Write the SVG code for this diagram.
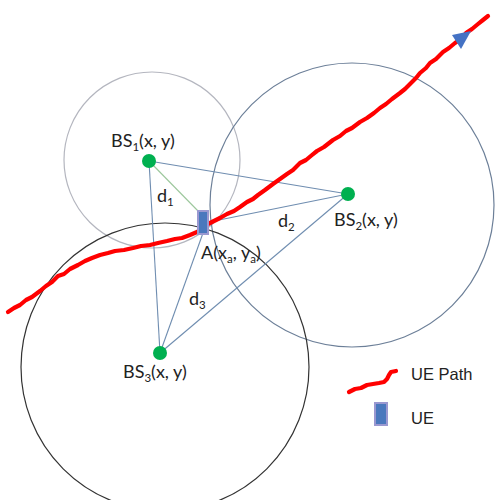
<svg xmlns="http://www.w3.org/2000/svg" width="496" height="500" viewBox="0 0 496 500">
<style>
.lbl{font-family:Lato,"Open Sans","Liberation Sans",sans-serif;font-size:18px;fill:#222}
.leg{font-family:"Liberation Sans",Arial,sans-serif;font-size:16.5px;fill:#222}
.sub{font-size:11.5px}
.conn{stroke:#6f8db0;stroke-width:1.1;fill:none}
.path{stroke:#ff0000;stroke-width:4.2;fill:none;stroke-linejoin:round;stroke-linecap:round}
.bs{fill:#00b050}
.ue{fill:#4a78bd;stroke:#9a98d0;stroke-width:2}
</style>
<rect width="496" height="500" fill="#fff"/>
<g id="circles">
<circle cx="152" cy="160" r="88" fill="none" stroke="#b4b6bf" stroke-width="1.2"/>
<circle cx="352" cy="205" r="142" fill="none" stroke="#6c7f98" stroke-width="1.2"/>
<circle cx="165" cy="367" r="144" fill="none" stroke="#333" stroke-width="1.2"/>
</g>
<g id="connectors">
<line class="conn" x1="149" y1="161" x2="348" y2="194"/>
<line class="conn" x1="149" y1="161" x2="160" y2="353"/>
<line class="conn" x1="348" y1="194" x2="160" y2="353"/>
<line class="conn" x1="209" y1="222" x2="348" y2="194"/>
<line class="conn" x1="203" y1="233" x2="160" y2="353"/>
<line x1="149" y1="161" x2="200" y2="213" stroke="#9cc79c" stroke-width="1.1"/>
</g>
<g id="ue-path">
<polyline class="path" points="8,312 14,308 20,305 26,300 32,297 40,291 46,286 52,282 58,276 64,274 70,269 78,265 85,261 92,258 100,255 108,253 115,251 124,250 133,248 141,246 150,245 158,243 167,241 175,239 182,238 190,235 197,232 203,228 208,224 214,221 220,218 227,214 234,211 240,207 247,202 253,199 258,195 265,190 273,184 280,179 287,174 293,170 300,163 306,160 312,155 317,151 324,147 333,140 340,136 346,131 352,128 360,122 367,118 374,113 380,108 386,104 392,99 400,93 405,89 410,84 416,78 420,73 426,68 430,63 436,59 443,52 449,48 455,43 461,39 466,33 472,29 478,24 483,20 488,16"/>
<polygon points="452,35 471,31 461,49" fill="#4472c4"/>
</g>
<g id="bs1"><circle class="bs" cx="149" cy="161" r="7"/>
<text class="lbl" x="111" y="147">BS<tspan class="sub" dy="4">1</tspan><tspan dy="-4">(x, y)</tspan></text></g>
<g id="bs2"><circle class="bs" cx="348" cy="194" r="7"/>
<text class="lbl" x="334" y="226">BS<tspan class="sub" dy="4">2</tspan><tspan dy="-4">(x, y)</tspan></text></g>
<g id="bs3"><circle class="bs" cx="160" cy="353" r="7"/>
<text class="lbl" x="123" y="378">BS<tspan class="sub" dy="4">3</tspan><tspan dy="-4">(x, y)</tspan></text></g>
<g id="ue"><rect class="ue" x="198" y="211" width="10" height="23"/>
<text class="lbl" x="201" y="259">A(x<tspan class="sub" dy="4">a</tspan><tspan dy="-4">, y</tspan><tspan class="sub" dy="4">a</tspan><tspan dy="-4">)</tspan></text></g>
<g id="dist-labels">
<text class="lbl" x="157" y="202">d<tspan class="sub" dy="4">1</tspan></text>
<text class="lbl" x="278" y="227">d<tspan class="sub" dy="4">2</tspan></text>
<text class="lbl" x="189" y="305">d<tspan class="sub" dy="4">3</tspan></text>
</g>
<g id="legend">
<polyline class="path" points="349,392 355,389 361,388 367,385 373,384 379,383 384,382 387,379 389,375 391,372 396,371"/>
<text class="leg" x="411" y="380">UE Path</text>
<rect class="ue" x="375" y="403" width="12" height="22"/>
<text class="leg" x="411" y="424">UE</text>
</g>
</svg>
